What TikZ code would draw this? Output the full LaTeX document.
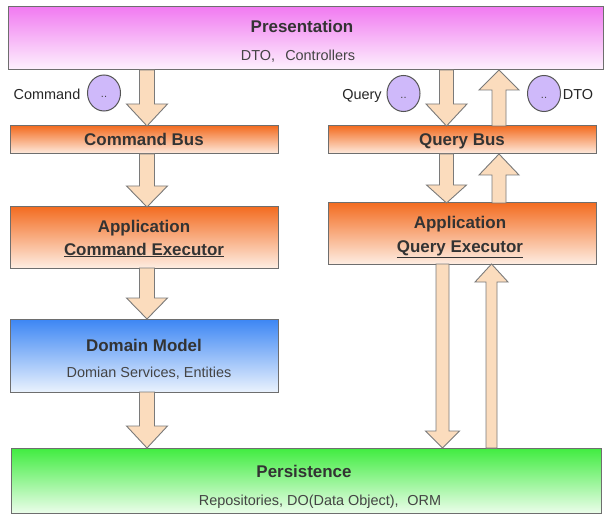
\documentclass[tikz,border=0pt]{standalone}
\usepackage{fontspec}
\setmainfont{Liberation Sans}
\usetikzlibrary{calc,shapes.geometric}
\definecolor{pinktop}{HTML}{F17BF1}
\definecolor{pinkbot}{HTML}{FDF2FD}
\definecolor{orgtop}{HTML}{F36D22}
\definecolor{orgbot}{HTML}{FEEDE2}
\definecolor{bluetop}{HTML}{3C86F4}
\definecolor{bluebot}{HTML}{EAF2FD}
\definecolor{grntop}{HTML}{40EC40}
\definecolor{grnbot}{HTML}{EBFDEA}
\definecolor{boxline}{HTML}{6E6E6E}
\definecolor{arrfill}{HTML}{FBDCBD}
\definecolor{arrline}{HTML}{7A7A7A}
\definecolor{bubfill}{HTML}{CFB9FA}
\definecolor{bubline}{HTML}{555555}
\definecolor{txtdark}{HTML}{333333}
\definecolor{txtsub}{HTML}{444444}
\newcommand\bkarrow[5]{%
  \draw[barrow] let \p1=(#1), \p2=(#2), \n2={\y2-sign(\y2-\y1)*#5} in
  (\x1-#3,\y1) -- (\x1-#3,\n2) -- (\x1-#4,\n2) -- (\x1,\y2) --
  (\x1+#4,\n2) -- (\x1+#3,\n2) -- (\x1+#3,\y1) -- cycle;}
\begin{document}
\begin{tikzpicture}[x=1bp,y=-1bp,
  layer/.style={draw=boxline,line width=1bp,rectangle,inner sep=0pt,outer sep=0pt},
  pinkbox/.style={layer,top color=pinktop,bottom color=pinkbot},
  orgbox/.style={layer,top color=orgtop,bottom color=orgbot},
  bluebox/.style={layer,top color=bluetop,bottom color=bluebot},
  grnbox/.style={layer,top color=grntop,bottom color=grnbot},
  ttl/.style={inner sep=0pt,anchor=base,text=txtdark,font=\fontsize{17}{20}\selectfont\bfseries},
  sub/.style={inner sep=0pt,anchor=base,text=txtsub,font=\fontsize{14.5}{17}\selectfont},
  lbl/.style={inner sep=0pt,anchor=base,text=black!85,font=\fontsize{14.5}{17}\selectfont},
  bubble/.style={ellipse,draw=bubline,fill=bubfill,line width=1bp,minimum width=33bp,minimum height=36bp,inner sep=0pt},
  dots/.style={inner sep=0pt,text=txtsub,font=\fontsize{11}{12}\selectfont},
  barrow/.style={draw=arrline,fill=arrfill,line width=0.9bp,line join=miter}
]
\useasboundingbox (0,0) rectangle (609,521);
\fill[white] (0,0) rectangle (609,521);

% layers
\node[pinkbox,minimum width=594bp,minimum height=63bp] (pres) at (306,38.5) {};
\node[orgbox,minimum width=267bp,minimum height=28bp] (cbus) at (144.5,140) {};
\node[orgbox,minimum width=268bp,minimum height=28bp] (qbus) at (462,140) {};
\node[orgbox,minimum width=267bp,minimum height=61bp] (capp) at (144.5,237.5) {};
\node[orgbox,minimum width=268bp,minimum height=61bp] (qapp) at (462,233.5) {};
\node[bluebox,minimum width=267bp,minimum height=73bp] (dom) at (144.5,355.5) {};
\node[grnbox,minimum width=589bp,minimum height=65bp] (pers) at (306.5,480.5) {};

% texts (placed by baseline)
\node[ttl] (presT) at (302,33) {Presentation};
\node[sub] (presS) at (298,60.2) {DTO,\hspace{0.7em}Controllers};
\node[ttl] (cbusT) at (144,146) {Command Bus};
\node[ttl] (qbusT) at (462,146) {Query Bus};
\node[ttl] (cappT) at (144,233) {Application};
\node[ttl] (cappS) at (144,255) {\underline{Command Executor}};
\node[ttl] (qappT) at (460,229) {Application};
\node[ttl] (qappS) at (460,252) {\underline{Query Executor}};
\node[ttl] (domT) at (144,351) {Domain Model};
\node[sub] (domS) at (149,377.2) {Domian Services, Entities};
\node[ttl] (persT) at (304,477) {Persistence};
\node[sub] (persS) at (320,505.2) {Repositories, DO(Data Object),\hspace{0.6em}ORM};

% message labels and bubbles
\node[lbl] (cmdL) at (47,99.2) {Command};
\node[bubble] (cmdB) at (104,93) {};
\node[dots] at ([yshift=-4bp]cmdB.center) {..};
\node[lbl] (qryL) at (362,99.2) {Query};
\node[bubble] (qryB) at (403.5,93.5) {};
\node[dots] at ([yshift=-4bp]qryB.center) {..};
\node[bubble] (dtoB) at (544,93.5) {};
\node[dots] at ([yshift=-4bp]dtoB.center) {..};
\node[lbl] (dtoL) at (578,99.2) {DTO};

% columns for arrows
\coordinate (c1) at (147,0);
\coordinate (q1) at (446.5,0);
\coordinate (q2) at (499,0);
\coordinate (l1) at (442.5,0);
\coordinate (l2) at (491.5,0);

% command side
\bkarrow{c1 |- pres.south}{c1 |- cbus.north}{7.5bp}{20.5bp}{22bp}
\bkarrow{c1 |- cbus.south}{c1 |- capp.north}{7.5bp}{20.5bp}{21bp}
\bkarrow{c1 |- capp.south}{c1 |- dom.north}{7.5bp}{20.5bp}{21bp}
\bkarrow{c1 |- dom.south}{c1 |- pers.north}{7.5bp}{20.5bp}{22bp}
% query side
\bkarrow{q1 |- pres.south}{q1 |- qbus.north}{7bp}{20.5bp}{22bp}
\bkarrow{q2 |- qbus.north}{q2 |- pres.south}{7bp}{20bp}{20bp}
\bkarrow{q1 |- qbus.south}{q1 |- qapp.north}{7bp}{20bp}{18bp}
\bkarrow{q2 |- qapp.north}{q2 |- qbus.south}{7bp}{20bp}{21bp}
\bkarrow{l1 |- qapp.south}{l1 |- pers.north}{6.5bp}{17bp}{17bp}
\bkarrow{l2 |- pers.north}{l2 |- qapp.south}{5.5bp}{16.5bp}{18bp}
\end{tikzpicture}
\end{document}
